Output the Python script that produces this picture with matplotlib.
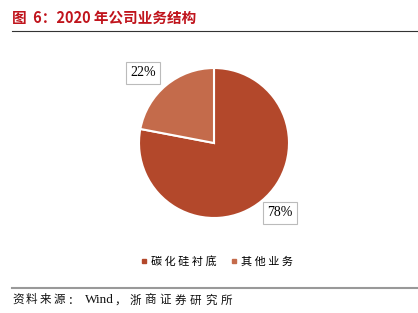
import matplotlib.pyplot as plt
from matplotlib.lines import Line2D

plt.rcParams['font.family'] = ['Noto Sans CJK SC', 'DejaVu Sans']

# --- data ---
labels = ['碳化硅衬底', '其他业务']
shares = [78, 22]
colors = ['#B3482B', '#C46B4B']

W, H = 418, 313
fig = plt.figure(figsize=(W / 100, H / 100), dpi=100)


def spaced(x, y, s, pitch, **kw):
    # place characters one by one to mimic the wide letter spacing
    for i, ch in enumerate(s):
        fig.text((x + i * pitch) / W, 1 - y / H, ch, va='center', ha='left', **kw)


# title and rules
fig.text(12 / W, 1 - 18 / H, '图  6：2020 年公司业务结构', color='#C0141C',
         fontsize=10.5, fontweight='bold', va='center', ha='left')
fig.add_artist(Line2D([12 / W, 417 / W], [1 - 31 / H, 1 - 31 / H], color='#333333', lw=0.8))
fig.add_artist(Line2D([12 / W, 417 / W], [1 - 288 / H, 1 - 288 / H], color='#999999', lw=1.5))

src_kw = dict(fontsize=8.3, color='#111111')
spaced(12, 300, '资料来源：', 14, **src_kw)
fig.text(85 / W, 1 - 300 / H, 'Wind', family='Liberation Serif', fontsize=9.5,
         va='center', ha='left', color='#111111')
spaced(114, 300, '，浙商证券研究所', 15.2, **src_kw)

# pie
cx, cy, r = 214, 143, 75
ax = fig.add_axes([(cx - r) / W, 1 - (cy + r) / H, 2 * r / W, 2 * r / H])
wedges, _ = ax.pie(shares, colors=colors, startangle=90, counterclock=False,
                   wedgeprops=dict(edgecolor='white', linewidth=1.5))
ax.set_aspect('equal')
ax.set_xlim(-1, 1)
ax.set_ylim(-1, 1)

box = dict(boxstyle='square,pad=0.3', fc='white', ec='#BBBBBB', lw=0.8)
fig.text(143 / W, 1 - 73 / H, f'{shares[1]}%', family='Liberation Serif', fontsize=10,
         ha='center', va='center', bbox=box)
fig.text(280 / W, 1 - 213 / H, f'{shares[0]}%', family='Liberation Serif', fontsize=10,
         ha='center', va='center', bbox=box)

# legend
handles = [Line2D([], [], marker='s', color=c, ls='', markersize=3) for c in colors]
fig.legend(handles, [' '.join(l) for l in labels], loc='center',
           bbox_to_anchor=(216 / W, 1 - 261 / H),
           ncol=2, frameon=False, fontsize=8, handletextpad=0.2, columnspacing=1.2,
           handlelength=0.8)

fig.savefig('out.png', dpi=100)
